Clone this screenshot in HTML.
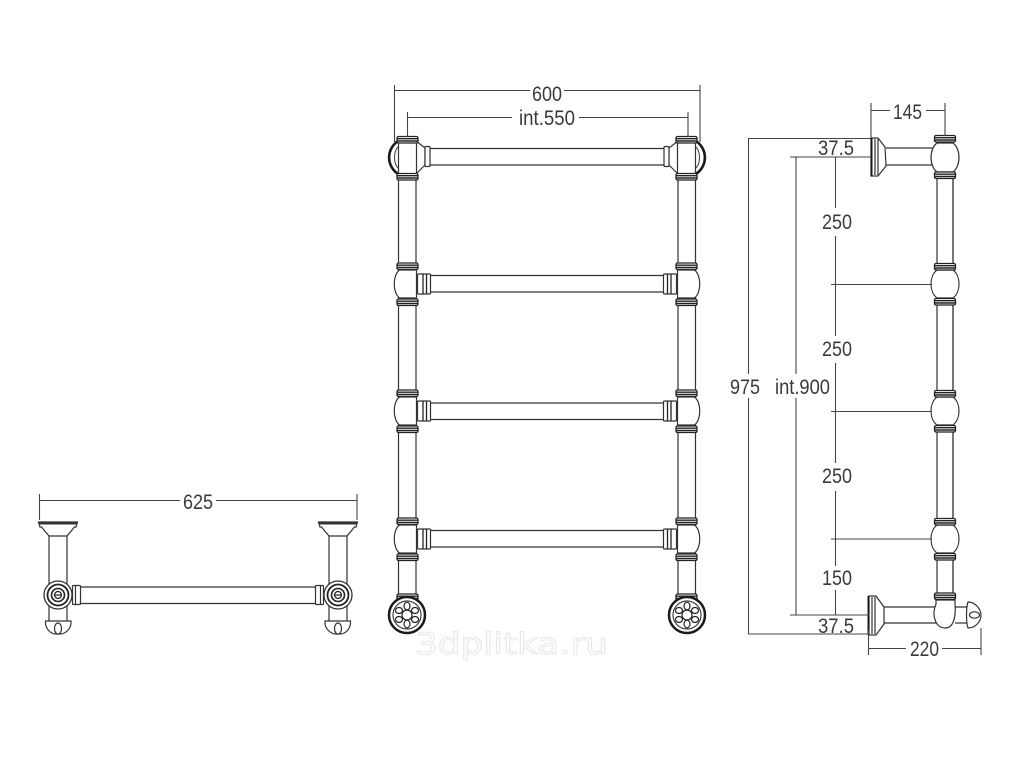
<!DOCTYPE html>
<html><head><meta charset="utf-8"><style>
html,body{margin:0;padding:0;background:#fff;width:1024px;height:768px;overflow:hidden}
svg{display:block}
text{font-family:"Liberation Sans",sans-serif;font-size:21.5px;fill:#3a3a3a}
</style></head><body>
<svg width="1024" height="768" viewBox="0 0 1024 768" xmlns="http://www.w3.org/2000/svg">
<defs>
<g id="band">
<rect x="-10.500" y="0" width="21" height="6.500" rx="1.500" fill="#fff" stroke="#222" stroke-width="1.300"/>
<line x1="-10.500" y1="2.200" x2="10.500" y2="2.200" stroke="#222" stroke-width="1.400"/>
<line x1="-10.500" y1="4.500" x2="10.500" y2="4.500" stroke="#222" stroke-width="1.400"/>
</g>
<g id="junction">
<use href="#band" y="-21"/>
<use href="#band" y="15"/>
<path d="M-8-14C-15-9-15 9-8 14H9V-14Z" fill="#fff" stroke="#333" stroke-width="1.200"/>
<rect x="10" y="-10" width="13" height="20" rx="1" fill="#fff" stroke="#333" stroke-width="1.200"/>
<line x1="15.500" y1="-10" x2="15.500" y2="10" stroke="#222" stroke-width="1.300"/>
<line x1="19" y1="-10" x2="19" y2="10" stroke="#222" stroke-width="1.300"/>
</g>
<g id="wheel">
<circle r="18" fill="#fff" stroke="#1a1a1a" stroke-width="2.500"/>
<circle r="14" fill="none" stroke="#444" stroke-width="1.200"/>
<circle r="5" fill="none" stroke="#222" stroke-width="1.200"/>
<g fill="none" stroke="#222" stroke-width="1.200">
<ellipse cx="0" cy="-9" rx="3" ry="3.800"/>
<ellipse cx="0" cy="9" rx="3" ry="3.800"/>
<ellipse cx="8" cy="-4.500" rx="3.500" ry="3"/>
<ellipse cx="-8" cy="-4.500" rx="3.500" ry="3"/>
<ellipse cx="8" cy="4.500" rx="3.500" ry="3"/>
<ellipse cx="-8" cy="4.500" rx="3.500" ry="3"/>
</g>
</g>
<g id="half">
<g stroke="#333" stroke-width="1.200" fill="none">
<line x1="398.500" y1="179" x2="398.500" y2="596"/>
<line x1="416" y1="179" x2="416" y2="596"/>
</g>
<!-- top ring -->
<path d="M400 140A19.500 19.500 0 0 0 400 175" fill="none" stroke="#1a1a1a" stroke-width="2.600"/>
<path d="M399 146C393 151 393 164 399 169" fill="none" stroke="#444" stroke-width="1.100"/>
<path d="M416 141L425 148V165L416 174" fill="#fff" stroke="#333" stroke-width="1.200"/>
<rect x="398.500" y="141" width="18" height="33" fill="#fff" stroke="#333" stroke-width="1.200"/>
<use href="#band" x="407.500" y="136.500"/>
<use href="#band" x="407.500" y="173.500"/>
<rect x="425" y="146.500" width="5" height="20" rx="1" fill="#fff" stroke="#333" stroke-width="1.200"/>
<use href="#junction" x="407.500" y="284"/>
<use href="#junction" x="407.500" y="411"/>
<use href="#junction" x="407.500" y="539"/>
<use href="#band" x="407.500" y="594"/>
<use href="#wheel" x="407" y="615"/>
</g>
<g id="hub">
<g stroke="#333" stroke-width="1.200" fill="#fff">
<path d="M49 535V622M67 535V622" fill="none"/>
<path d="M38.500 522H77.500L76 527H74.500L67 536H49L41.500 527H40Z"/>
<path d="M39 523.500H77.500" stroke-width="2"/>
<rect x="72.500" y="585.500" width="8" height="19" rx="1"/>
<line x1="75.500" y1="586" x2="75.500" y2="604"/>
<circle cx="58" cy="595" r="14" stroke="#333" stroke-width="1.300"/>
<circle cx="58" cy="595" r="10.500" stroke="#222" stroke-width="1.800"/>
<circle cx="58" cy="595" r="6.500" stroke="#222" stroke-width="1.600"/>
<circle cx="58" cy="595" r="3.500" stroke="#222" stroke-width="1.200"/>
<line x1="55" y1="595" x2="61" y2="595" stroke="#222"/>
<path d="M45.500 621H71V623C71 628 66 634 60 634H56C50 634 45.500 628 45.500 623Z"/>
<ellipse cx="58" cy="628.500" rx="3.500" ry="5.500"/>
</g>
</g>
</defs>

<!-- ===== front view ===== -->
<g stroke="#333" stroke-width="1.200">
<line x1="430" y1="148.500" x2="664" y2="148.500"/>
<line x1="430" y1="165" x2="664" y2="165"/>
<line x1="430" y1="275.500" x2="664" y2="275.500"/>
<line x1="430" y1="292" x2="664" y2="292"/>
<line x1="430" y1="403" x2="664" y2="403"/>
<line x1="430" y1="419.500" x2="664" y2="419.500"/>
<line x1="430" y1="530.500" x2="664" y2="530.500"/>
<line x1="430" y1="547" x2="664" y2="547"/>
</g>
<use href="#half"/>
<use href="#half" transform="translate(1094,0) scale(-1,1)"/>

<g stroke="#444" stroke-width="1.100" fill="none">
<path d="M394.500 85V142M700 85V142M394.500 90.500H530M564 90.500H700"/>
<path d="M407.500 112V137M688 112V137M407.500 117.500H512M579 117.500H688"/>
</g>
<text x="532" y="101" textLength="30" lengthAdjust="spacingAndGlyphs">600</text>
<text x="519" y="125" textLength="56" lengthAdjust="spacingAndGlyphs">int.550</text>

<!-- ===== top view ===== -->
<g stroke="#333" stroke-width="1.200">
<line x1="80" y1="587" x2="316" y2="587"/>
<line x1="80" y1="603.500" x2="316" y2="603.500"/>
</g>
<use href="#hub"/>
<use href="#hub" transform="translate(396,0) scale(-1,1)"/>
<g stroke="#444" stroke-width="1.100" fill="none">
<path d="M39.500 494V520M357 494V520M39.500 500.500H180M216 500.500H357"/>
</g>
<text x="183" y="509" textLength="30" lengthAdjust="spacingAndGlyphs">625</text>

<!-- ===== side view ===== -->
<g stroke="#333" stroke-width="1.200" fill="none">
<line x1="937" y1="178" x2="937" y2="593"/>
<line x1="953" y1="178" x2="953" y2="593" stroke="#555" stroke-width="1.600"/>
</g>
<g id="sj">
<g stroke="#333" stroke-width="1.200" fill="#fff">
<path d="M937 270C929 276 929 292 937 298H953C961 292 961 276 953 270Z"/>
</g>
<use href="#band" x="945" y="263.500"/>
<use href="#band" x="945" y="298.500"/>
</g>
<use href="#sj" y="127"/>
<use href="#sj" y="255"/>
<!-- top junction -->
<g stroke="#333" stroke-width="1.200" fill="#fff">
<path d="M886 148H934M886 165H934" fill="none"/>
<path d="M937 143C929 149 929 166 937 172H953C961 166 961 149 953 143Z"/>
<path d="M871 138H878L885 147L886 166L878 176H871Z"/>
<path d="M875 139V175M878 139V175" fill="none"/>
</g>
<line x1="871.500" y1="138" x2="871.500" y2="176" stroke="#1a1a1a" stroke-width="2"/>
<use href="#band" x="945" y="135.500"/>
<use href="#band" x="945" y="172"/>
<!-- bottom part -->
<g stroke="#333" stroke-width="1.200" fill="#fff">
<path d="M869 596H876L884 607V624L876 635H869Z"/>
<path d="M872 597V634M875 597V634" fill="none"/>
<path d="M884 607H936M884 623H936" fill="none"/>
<path d="M936 604C931 616 936 628 945 628C954 628 956 616 955 604V600H936Z"/>
<path d="M955 607H967M955 623H967" fill="none"/>
<path d="M968 602C976 602 981 610 981 615C981 621 976 628 968 628C966 622 966 608 968 602Z"/>
<ellipse cx="974.500" cy="615" rx="5" ry="3.200"/>
</g>
<line x1="868.500" y1="596" x2="868.500" y2="635" stroke="#1a1a1a" stroke-width="2"/>
<use href="#band" x="945" y="593"/>

<g stroke="#444" stroke-width="1.100" fill="none">
<path d="M871 103V138M945 103V136M871 110.500H890M926 110.500H945"/>
<path d="M748 138.500H871M790 157H871"/>
<path d="M748.500 138V374M748.500 398V634"/>
<path d="M796 157V374M796 398V615"/>
<path d="M790 615H869M748 634H869"/>
<path d="M835.500 157V208M835.500 236V336M835.500 363V463M835.500 491V566M835.500 590V615"/>
<path d="M831 284.500H932M831 411.500H932M831 539H932"/>
<path d="M868.500 630V655M981 628V655M868.500 648.500H906M942 648.500H981"/>
</g>
<text x="893" y="119" textLength="29" lengthAdjust="spacingAndGlyphs">145</text>
<rect x="818" y="140" width="36" height="15" fill="#fff"/>
<text x="818" y="155" textLength="36" lengthAdjust="spacingAndGlyphs">37.5</text>
<rect x="818" y="617" width="36" height="15" fill="#fff"/>
<text x="818" y="633" textLength="36" lengthAdjust="spacingAndGlyphs">37.5</text>
<text x="822" y="229" textLength="30" lengthAdjust="spacingAndGlyphs">250</text>
<text x="822" y="356" textLength="30" lengthAdjust="spacingAndGlyphs">250</text>
<text x="822" y="483" textLength="30" lengthAdjust="spacingAndGlyphs">250</text>
<text x="822" y="585" textLength="30" lengthAdjust="spacingAndGlyphs">150</text>
<text x="730" y="394" textLength="30" lengthAdjust="spacingAndGlyphs">975</text>
<rect x="775" y="376" width="56" height="20" fill="#fff"/>
<text x="775" y="394" textLength="55" lengthAdjust="spacingAndGlyphs">int.900</text>
<text x="910" y="656" textLength="29" lengthAdjust="spacingAndGlyphs">220</text>

<!-- watermark -->
<text x="415" y="654" textLength="193" lengthAdjust="spacingAndGlyphs" style="font-family:'DejaVu Sans',sans-serif;font-size:29px;fill:#fff;stroke:#e8e8e8;stroke-width:1">3dplitka.ru</text>
</svg>
</body></html>
